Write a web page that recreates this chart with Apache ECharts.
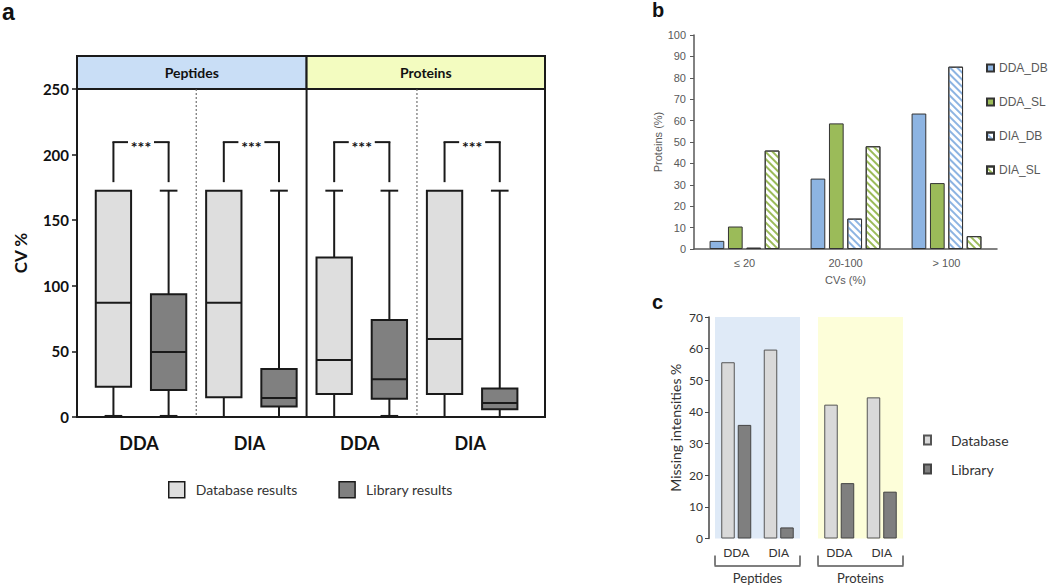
<!DOCTYPE html>
<html><head><meta charset="utf-8">
<script src="https://cdn.jsdelivr.net/npm/echarts@6/dist/echarts.min.js"></script>
<style>html,body{margin:0;padding:0;background:#fff}#chart{width:1050px;height:586px}</style>
</head><body><div id="chart"></div>
<script>
// ---------- Panel a data ----------
const headerLabels = ['Peptides', 'Proteins'];
const groupLabels = ['DDA', 'DIA', 'DDA', 'DIA'];
const sigLabels = ['***', '***', '***', '***'];
const dbMin = [0.8, 0, 0, 0];
const dbQ1 = [23, 15, 17.5, 17.5];
const dbMedian = [87, 87, 43.5, 59.5];
const dbQ3 = [172.5, 172.5, 121.5, 172.5];
const dbMax = [172.5, 172.5, 172.5, 172.5];
const libMin = [0.8, 0, 0.8, 0];
const libQ1 = [20.5, 8, 14, 6];
const libMedian = [49.5, 14.5, 28.7, 10.7];
const libQ3 = [93.6, 36.5, 74, 21.8];
const libMax = [172.5, 172.5, 172.5, 172.5];
const bracketLevel = 209.5;
const bracketLegEnd = 179;

// ---------- Panel b data ----------
const cvCategories = ['≤ 20', '20-100', '> 100'];
const ddaDB = [3.8, 32.9, 63.3];
const ddaSL = [10.5, 58.7, 30.8];
const diaDB = [0.6, 14.2, 85.2];
const diaSL = [46.0, 48.0, 6.0];

// ---------- Panel c data ----------
const missingCategories = ['DDA', 'DIA'];
const peptideDatabase = [55.7, 59.7];
const peptideLibrary = [35.9, 3.5];
const proteinDatabase = [42.3, 44.6];
const proteinLibrary = [17.5, 14.8];

const chart = echarts.init(document.getElementById('chart'), null, { renderer: 'svg' });
const INK = '#1a1a1a';
const nBoxes = groupLabels.length * 2;

function boxRenderer(fill) {
  return function (params, api) {
    const x = api.value(0);
    const vMin = api.value(1), vQ1 = api.value(2), vMed = api.value(3), vQ3 = api.value(4), vMax = api.value(5);
    const bw = api.size([1, 0])[0] * 0.64;
    const cw = bw / 2;
    const pMin = api.coord([x, vMin]), pQ1 = api.coord([x, vQ1]), pMed = api.coord([x, vMed]);
    const pQ3 = api.coord([x, vQ3]), pMax = api.coord([x, vMax]);
    const cx = pMin[0];
    const ls = { stroke: INK, lineWidth: 2, fill: null };
    const ch = [];
    ch.push({ type: 'line', shape: { x1: cx, y1: pMin[1], x2: cx, y2: pQ1[1] }, style: ls });
    ch.push({ type: 'line', shape: { x1: cx - cw / 2, y1: pMin[1], x2: cx + cw / 2, y2: pMin[1] }, style: ls });
    if (vMax > vQ3) {
      ch.push({ type: 'line', shape: { x1: cx, y1: pQ3[1], x2: cx, y2: pMax[1] }, style: ls });
      ch.push({ type: 'line', shape: { x1: cx - cw / 2, y1: pMax[1], x2: cx + cw / 2, y2: pMax[1] }, style: ls });
    }
    ch.push({ type: 'rect', shape: { x: cx - bw / 2, y: pQ3[1], width: bw, height: pQ1[1] - pQ3[1] },
      style: { fill: fill, stroke: INK, lineWidth: 2 } });
    ch.push({ type: 'line', shape: { x1: cx - bw / 2, y1: pMed[1], x2: cx + bw / 2, y2: pMed[1] }, style: ls });
    return { type: 'group', children: ch };
  };
}

const dbColor = '#dedede', libColor = '#808080';
const headerColors = ['#c9def6', '#f3fcc0'];

const option = {
  animation: false,
  backgroundColor: '#fff',
  title: [
    { text: 'a', left: 2, top: 0, padding: 0, textStyle: { fontSize: 23, fontWeight: 'bold', fontFamily: 'Liberation Sans', color: '#111' } },
    { text: 'b', left: 652, top: 0, padding: 0, textStyle: { fontSize: 20, fontWeight: 'bold', fontFamily: 'Liberation Sans', color: '#111' } },
    { text: 'c', left: 652, top: 292, padding: 0, textStyle: { fontSize: 20, fontWeight: 'bold', fontFamily: 'Liberation Sans', color: '#111' } }
  ],
  legend: [
    {
      left: 168, top: 481, padding: 0, itemWidth: 16, itemHeight: 16, itemGap: 41, icon: 'rect',
      textStyle: { fontFamily: 'Lato', fontSize: 14, color: '#333', padding: [0, 0, 0, 6] },
      data: [
        { name: 'Database results', itemStyle: { color: dbColor, borderColor: INK, borderWidth: 1.5 } },
        { name: 'Library results', itemStyle: { color: libColor, borderColor: INK, borderWidth: 1.5 } }
      ]
    },
    {
      orient: 'vertical', left: 986, top: 62, padding: 0, itemWidth: 7, itemHeight: 7, itemGap: 22, icon: 'rect',
      textStyle: { fontFamily: 'Liberation Sans', fontSize: 12, color: '#595959' },
      data: ['DDA_DB', 'DDA_SL', 'DIA_DB', 'DIA_SL']
    },
    {
      orient: 'vertical', left: 923, top: 433, padding: 0, itemWidth: 7, itemHeight: 9, itemGap: 15, icon: 'rect',
      textStyle: { fontFamily: 'Lato', fontSize: 14, color: '#333', padding: [0, 0, 0, 15] },
      data: ['Database', 'Library']
    }
  ],
  grid: [
    { left: 77, top: 56, width: 468, height: 33 },
    { left: 77, top: 89, width: 468, height: 328, show: true, borderColor: INK, borderWidth: 2, backgroundColor: 'transparent' },
    { left: 694, top: 35, width: 303, height: 214 },
    { left: 715, top: 317, width: 85, height: 221.5, show: true, backgroundColor: '#dfeaf7', borderWidth: 0 },
    { left: 818, top: 317, width: 85, height: 221.5, show: true, backgroundColor: '#fdfed9', borderWidth: 0 }
  ],
  xAxis: [
    { gridIndex: 0, type: 'value', min: -0.66, max: 7.82, show: false },
    { gridIndex: 1, type: 'value', min: -0.66, max: 7.82,
      axisLine: { show: true, onZero: false, lineStyle: { color: INK, width: 2 } }, axisTick: { show: false },
      axisLabel: { show: false }, splitLine: { show: false } },
    { gridIndex: 2, type: 'category', data: cvCategories,
      axisLine: { show: true, lineStyle: { color: '#595959', width: 1.5 } }, axisTick: { show: false },
      axisLabel: { fontFamily: 'Liberation Sans', fontSize: 11, color: '#595959', margin: 8 },
      name: 'CVs (%)', nameLocation: 'middle', nameGap: 25,
      nameTextStyle: { fontFamily: 'Liberation Sans', fontSize: 11, color: '#595959' } },
    { gridIndex: 3, type: 'category', data: missingCategories,
      axisLine: { show: false }, axisTick: { show: false },
      axisLabel: { fontFamily: 'Lato', fontSize: 12, color: '#333', margin: 8 } },
    { gridIndex: 3, type: 'category', data: [headerLabels[0]], position: 'bottom', offset: 27,
      axisLine: { show: true, lineStyle: { color: '#555', width: 1.5 } },
      axisTick: { show: true, inside: true, length: 10, lineStyle: { color: '#555', width: 1.5 } },
      axisLabel: { fontFamily: 'Lato', fontSize: 13, color: '#333', margin: 6 } },
    { gridIndex: 4, type: 'category', data: missingCategories,
      axisLine: { show: false }, axisTick: { show: false },
      axisLabel: { fontFamily: 'Lato', fontSize: 12, color: '#333', margin: 8 } },
    { gridIndex: 4, type: 'category', data: [headerLabels[1]], position: 'bottom', offset: 27,
      axisLine: { show: true, lineStyle: { color: '#555', width: 1.5 } },
      axisTick: { show: true, inside: true, length: 10, lineStyle: { color: '#555', width: 1.5 } },
      axisLabel: { fontFamily: 'Lato', fontSize: 13, color: '#333', margin: 6 } }
  ],
  yAxis: [
    { gridIndex: 0, type: 'value', min: 0, max: 1, show: false },
    { gridIndex: 1, type: 'value', min: 0, max: 250, interval: 50,
      axisLine: { show: true, onZero: false, lineStyle: { color: INK, width: 2 } },
      axisTick: { show: true, length: 5, lineStyle: { color: INK, width: 1.5 } },
      axisLabel: { fontFamily: 'Lato', fontWeight: 'bold', fontSize: 15, color: '#111', margin: 8 },
      splitLine: { show: false },
      name: 'CV %', nameLocation: 'middle', nameGap: 48, nameRotate: 90,
      nameTextStyle: { fontFamily: 'Lato', fontWeight: 'bold', fontSize: 17, color: '#111' } },
    { gridIndex: 2, type: 'value', min: 0, max: 100, interval: 10,
      axisLine: { show: true, lineStyle: { color: '#595959', width: 1.5 } },
      axisTick: { show: true, length: 4, lineStyle: { color: '#595959' } },
      axisLabel: { fontFamily: 'Liberation Sans', fontSize: 11, color: '#595959', margin: 8 },
      splitLine: { show: false },
      name: 'Proteins (%)', nameLocation: 'middle', nameGap: 30,
      nameTextStyle: { fontFamily: 'Liberation Sans', fontSize: 11, color: '#595959' } },
    { gridIndex: 3, type: 'value', min: 0, max: 70, interval: 10, offset: 6,
      axisLine: { show: true, lineStyle: { color: '#444', width: 1.5 } },
      axisTick: { show: true, length: 4, lineStyle: { color: '#444' } },
      axisLabel: { fontFamily: 'Lato', fontSize: 12, color: '#333', margin: 6 },
      splitLine: { show: false },
      name: 'Missing intensities %', nameLocation: 'middle', nameGap: 27,
      nameTextStyle: { fontFamily: 'Lato', fontSize: 14, color: '#333' } },
    { gridIndex: 4, type: 'value', min: 0, max: 70, show: false, splitLine: { show: false } }
  ],
  series: [
    // header
    {
      type: 'custom', xAxisIndex: 0, yAxisIndex: 0, silent: true,
      encode: { x: [0, 1], y: 2 },
      data: headerLabels.map((t, h) => [h * 4, h * 4 + 3, 0]),
      renderItem: function (params, api) {
        const cs = params.coordSys;
        const s = api.value(0), e = api.value(1);
        const l = s === 0 ? cs.x : api.coord([s - 0.5, 0])[0];
        const r = e === nBoxes - 1 ? cs.x + cs.width : api.coord([e + 0.5, 0])[0];
        return { type: 'group', children: [
          { type: 'rect', shape: { x: l, y: cs.y, width: r - l, height: cs.height },
            style: { fill: headerColors[params.dataIndex], stroke: INK, lineWidth: 2 } },
          { type: 'text', style: { text: headerLabels[params.dataIndex], x: (l + r) / 2, y: cs.y + cs.height / 2,
            align: 'center', verticalAlign: 'middle', fontFamily: 'Lato', fontWeight: 'bold', fontSize: 14, fill: '#111' } }
        ] };
      }
    },
    // dividers
    {
      type: 'custom', xAxisIndex: 1, yAxisIndex: 1, silent: true,
      encode: { x: 0, y: 1 },
      data: groupLabels.slice(1).map((_, g) => [2 * (g + 1) - 0.5, 0]),
      renderItem: function (params, api) {
        const x = api.value(0);
        const p = api.coord([x, 0]);
        const cs = params.coordSys;
        const solid = ((x + 0.5) % 4) === 0;
        return { type: 'line', shape: { x1: p[0], y1: cs.y, x2: p[0], y2: cs.y + cs.height },
          style: solid ? { stroke: INK, lineWidth: 2 } : { stroke: '#555', lineWidth: 1, lineDash: [2, 2] } };
      }
    },
    {
      name: 'Database results', type: 'custom', xAxisIndex: 1, yAxisIndex: 1,
      itemStyle: { color: dbColor, borderColor: INK },
      encode: { x: 0, y: [1, 2, 3, 4, 5] },
      data: groupLabels.map((_, i) => [2 * i, dbMin[i], dbQ1[i], dbMedian[i], dbQ3[i], dbMax[i]]),
      renderItem: boxRenderer(dbColor)
    },
    {
      name: 'Library results', type: 'custom', xAxisIndex: 1, yAxisIndex: 1,
      itemStyle: { color: libColor, borderColor: INK },
      encode: { x: 0, y: [1, 2, 3, 4, 5] },
      data: groupLabels.map((_, i) => [2 * i + 1, libMin[i], libQ1[i], libMedian[i], libQ3[i], libMax[i]]),
      renderItem: boxRenderer(libColor)
    },
    // significance brackets
    {
      type: 'custom', xAxisIndex: 1, yAxisIndex: 1, silent: true,
      encode: { x: [0, 1], y: [2, 3] },
      data: sigLabels.map((t, i) => [2 * i, 2 * i + 1, bracketLevel, bracketLegEnd]),
      renderItem: function (params, api) {
        const top0 = api.coord([api.value(0), api.value(2)]);
        const bot0 = api.coord([api.value(0), api.value(3)]);
        const top1 = api.coord([api.value(1), api.value(2)]);
        const bot1 = api.coord([api.value(1), api.value(3)]);
        const mid = (top0[0] + top1[0]) / 2;
        const gap = 13;
        const ls = { stroke: INK, lineWidth: 2, fill: null };
        return { type: 'group', children: [
          { type: 'line', shape: { x1: bot0[0], y1: bot0[1], x2: top0[0], y2: top0[1] }, style: ls },
          { type: 'line', shape: { x1: top0[0] - 1, y1: top0[1], x2: mid - gap, y2: top0[1] }, style: ls },
          { type: 'line', shape: { x1: mid + gap, y1: top1[1], x2: top1[0] + 1, y2: top1[1] }, style: ls },
          { type: 'line', shape: { x1: top1[0], y1: top1[1], x2: bot1[0], y2: bot1[1] }, style: ls },
          { type: 'text', style: { text: sigLabels[params.dataIndex], x: mid, y: top0[1] + 4,
            align: 'center', verticalAlign: 'middle', fontFamily: 'Lato', fontWeight: 'bold', fontSize: 16, fill: '#111' } }
        ] };
      }
    },
    // group labels
    {
      type: 'custom', xAxisIndex: 1, yAxisIndex: 1, silent: true,
      encode: { x: 0, y: 1 },
      data: groupLabels.map((t, i) => [2 * i + 0.5, 0]),
      renderItem: function (params, api) {
        const p = api.coord([api.value(0), api.value(1)]);
        return { type: 'text', style: { text: groupLabels[params.dataIndex], x: p[0] - 2, y: p[1] + 26,
          align: 'center', verticalAlign: 'middle', fontFamily: 'Lato', fontWeight: 'bold', fontSize: 18, fill: '#111' } };
      }
    },
    // panel b
    { name: 'DDA_DB', type: 'bar', xAxisIndex: 2, yAxisIndex: 2, data: ddaDB, barWidth: 14.7, barGap: '25%',
      itemStyle: { color: '#8db4e2', borderColor: '#333', borderWidth: 1 } },
    { name: 'DDA_SL', type: 'bar', xAxisIndex: 2, yAxisIndex: 2, data: ddaSL, barWidth: 14.7, barGap: '25%',
      itemStyle: { color: '#9bbb59', borderColor: '#333', borderWidth: 1 } },
    { name: 'DIA_DB', type: 'bar', xAxisIndex: 2, yAxisIndex: 2, data: diaDB, barWidth: 14.7, barGap: '25%',
      itemStyle: { color: '#ffffff', borderColor: '#333', borderWidth: 1,
        decal: { symbol: 'rect', symbolSize: 1, dashArrayX: [1, 0], dashArrayY: [2, 3], rotation: Math.PI / 4, color: '#8db4e2' } } },
    { name: 'DIA_SL', type: 'bar', xAxisIndex: 2, yAxisIndex: 2, data: diaSL, barWidth: 14.7, barGap: '25%',
      itemStyle: { color: '#ffffff', borderColor: '#333', borderWidth: 1,
        decal: { symbol: 'rect', symbolSize: 1, dashArrayX: [1, 0], dashArrayY: [2, 3], rotation: Math.PI / 4, color: '#9bbb59' } } },
    // panel c
    { name: 'Database', type: 'bar', xAxisIndex: 3, yAxisIndex: 3, data: peptideDatabase, barWidth: 13.5, barGap: '22%',
      itemStyle: { color: '#d9d9d9', borderColor: '#555', borderWidth: 1 } },
    { name: 'Library', type: 'bar', xAxisIndex: 3, yAxisIndex: 3, data: peptideLibrary, barWidth: 13.5, barGap: '22%',
      itemStyle: { color: '#7f7f7f', borderColor: '#444', borderWidth: 1 } },
    { name: 'Database', type: 'bar', xAxisIndex: 5, yAxisIndex: 4, data: proteinDatabase, barWidth: 13.5, barGap: '22%',
      itemStyle: { color: '#d9d9d9', borderColor: '#555', borderWidth: 1 } },
    { name: 'Library', type: 'bar', xAxisIndex: 5, yAxisIndex: 4, data: proteinLibrary, barWidth: 13.5, barGap: '22%',
      itemStyle: { color: '#7f7f7f', borderColor: '#444', borderWidth: 1 } }
  ]
};
chart.setOption(option);
</script></body></html>
